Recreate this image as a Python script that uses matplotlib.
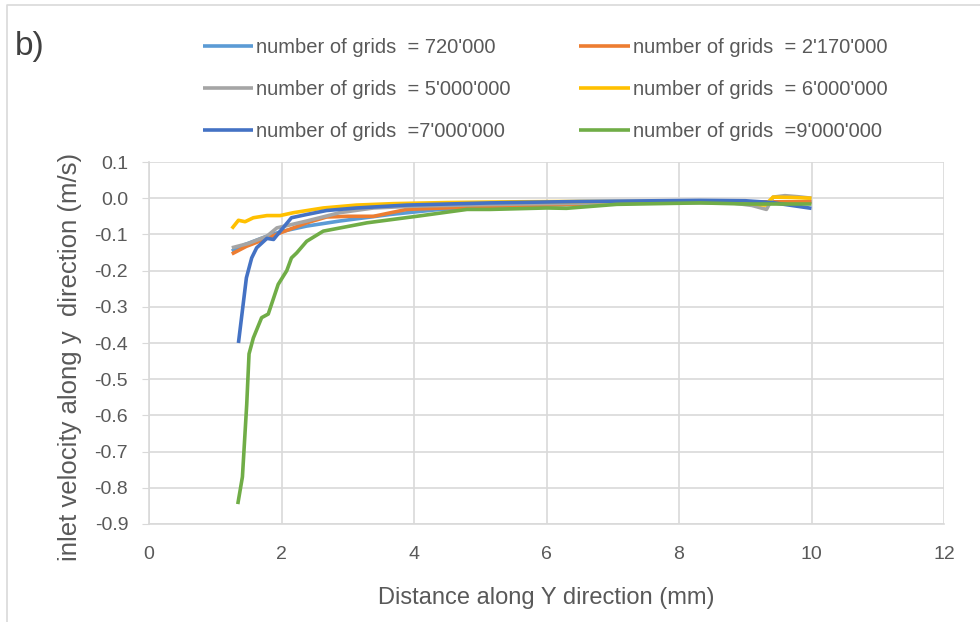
import matplotlib
matplotlib.use("Agg")
import matplotlib.pyplot as plt
from matplotlib.lines import Line2D

plt.rcParams['font.family'] = ['Liberation Sans', 'DejaVu Sans']

labels = ["number of grids  = 720'000", "number of grids  = 2'170'000",
          "number of grids  = 5'000'000", "number of grids  = 6'000'000",
          "number of grids  =7'000'000", "number of grids  =9'000'000"]
colors = ["#5B9BD5", "#ED7D31", "#A5A5A5", "#FFC000", "#4472C4", "#70AD47"]

x_720k = [1.25, 1.45, 1.78, 2.0, 2.38, 2.88, 3.64, 4.39, 5.2, 6.0, 7.0, 8.0, 9.0, 9.5, 10.0]
y_720k = [-0.146, -0.128, -0.105, -0.092, -0.077, -0.063, -0.045, -0.031, -0.024, -0.019, -0.015, -0.012, -0.011, -0.01, -0.01]

x_2170k = [1.25, 1.47, 1.78, 1.98, 2.38, 2.68, 3.0, 3.39, 3.89, 5.15, 6.0, 7.0, 8.3, 9.0, 9.5, 10.0]
y_2170k = [-0.154, -0.133, -0.111, -0.096, -0.068, -0.052, -0.05, -0.05, -0.031, -0.022, -0.019, -0.014, -0.01, -0.01, -0.01, -0.01]

x_5m = [1.25, 1.5, 1.78, 1.93, 2.1, 2.38, 2.88, 3.39, 4.0, 5.0, 6.0, 7.0, 8.0, 8.8, 9.1, 9.32, 9.42, 9.6, 9.8, 10.0]
y_5m = [-0.137, -0.125, -0.105, -0.082, -0.075, -0.063, -0.04, -0.027, -0.022, -0.018, -0.015, -0.013, -0.012, -0.013, -0.02, -0.031, 0.003, 0.007, 0.004, 0.0]

x_6m = [1.25, 1.35, 1.45, 1.575, 1.78, 1.98, 2.18, 2.63, 3.13, 3.69, 4.5, 5.5, 6.5, 7.5, 8.5, 9.0, 9.3, 9.42, 9.7, 10.0]
y_6m = [-0.084, -0.061, -0.065, -0.054, -0.048, -0.048, -0.04, -0.027, -0.019, -0.015, -0.012, -0.01, -0.009, -0.009, -0.01, -0.013, -0.019, 0.003, 0.002, 0.0]

x_7m = [1.35, 1.47, 1.55, 1.625, 1.78, 1.88, 2.0, 2.15, 2.38, 2.68, 3.13, 3.89, 5.15, 6.5, 8.32, 9.0, 9.4, 9.7, 10.0]
y_7m = [-0.40, -0.22, -0.165, -0.137, -0.111, -0.114, -0.087, -0.054, -0.045, -0.034, -0.027, -0.019, -0.013, -0.009, -0.006, -0.007, -0.012, -0.02, -0.028]

x_9m = [1.34, 1.41, 1.475, 1.51, 1.575, 1.70, 1.80, 1.95, 2.08, 2.15, 2.23, 2.38, 2.63, 3.29, 4.04, 4.8, 5.15, 6.0, 6.3, 7.06, 8.32, 9.0, 10.0]
y_9m = [-0.845, -0.77, -0.57, -0.43, -0.386, -0.33, -0.32, -0.238, -0.20, -0.165, -0.151, -0.119, -0.091, -0.068, -0.05, -0.031, -0.031, -0.027, -0.028, -0.017, -0.013, -0.016, -0.016]

series_x = [x_720k, x_2170k, x_5m, x_6m, x_7m, x_9m]
series_y = [y_720k, y_2170k, y_5m, y_6m, y_7m, y_9m]

x_ticks = [0, 2, 4, 6, 8, 10, 12]
y_ticks = [0.1, 0.0, -0.1, -0.2, -0.3, -0.4, -0.5, -0.6, -0.7, -0.8, -0.9]

fig = plt.figure(figsize=(9.8, 6.22), dpi=100)
ax = fig.add_axes([149/980, 1-524/622, (944-149)/980, (524-162)/622])

handles = []
for xs, ys, c, lab in zip(series_x, series_y, colors, labels):
    h, = ax.plot(xs, ys, color=c, lw=2.6, label=lab, solid_capstyle='butt', solid_joinstyle='round')
    handles.append(h)

ax.set_xlim(0, 12)
ax.set_ylim(-0.9, 0.1)
ax.set_xticks(x_ticks)
ax.set_yticks(y_ticks)
ax.set_xticklabels([str(v) for v in x_ticks])
ax.set_yticklabels([f"{v:.1f}" for v in y_ticks])
ax.grid(True, color="#D9D9D9", lw=1.2)
ax.set_axisbelow(True)
for s in ['top', 'right']:
    ax.spines[s].set_visible(False)
for s in ['left', 'bottom']:
    ax.spines[s].set_color("#D9D9D9")
    ax.spines[s].set_linewidth(1.2)
ax.tick_params(axis='y', length=5, color="#D9D9D9", labelsize=14, labelcolor="#595959", pad=10)
ax.tick_params(axis='x', length=0, labelsize=14, labelcolor="#595959", pad=16)

ax.set_xlabel("Distance along Y direction (mm)", fontsize=17, color="#595959", labelpad=17)
ax.set_ylabel("inlet velocity along y  direction (m/s)", fontsize=18.5, color="#595959")
ax.yaxis.set_label_coords((82 - 149) / (944 - 149), (524 - 357) / (524 - 162))

order = [0, 2, 4, 1, 3, 5]
fig.legend([handles[i] for i in order], [labels[i] for i in order], ncol=2,
           loc='upper left', bbox_to_anchor=(195/980, 1-30/622), frameon=False,
           fontsize=14.5, handlelength=2.5, handletextpad=0.15, columnspacing=3.4,
           labelspacing=1.15, labelcolor="#595959", borderaxespad=0)

fig.text(15/980, 1-47/622, "b)", fontsize=24, color="#404040", va='center', ha='left')

fig.add_artist(Line2D([7/980, 7/980, 1.0], [0.0, 1-5/622, 1-5/622], transform=fig.transFigure,
                      color="#D9D9D9", lw=1.2))

fig.savefig("out.png", dpi=100)
